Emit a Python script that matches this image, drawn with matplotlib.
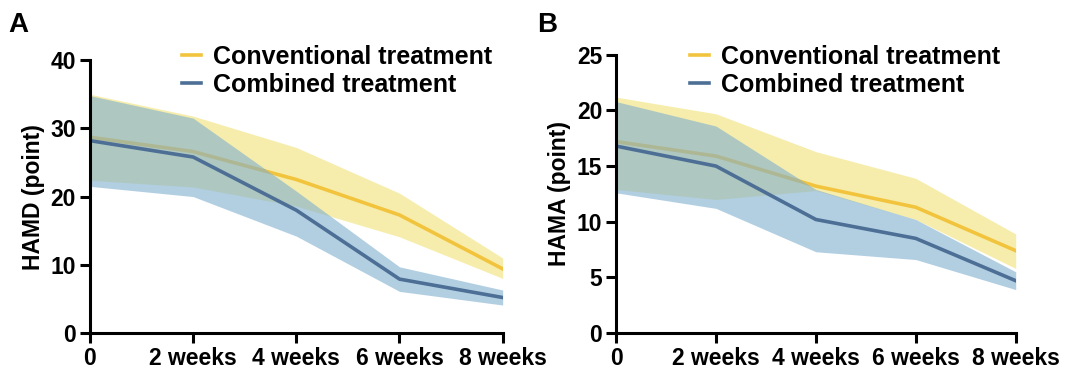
import matplotlib.pyplot as plt

# Datos
semanas = [0, 2, 4, 6, 8]
etiquetas = ['0', '2 weeks', '4 weeks', '6 weeks', '8 weeks']

# HAMD
hamd_conv = [28.7, 26.6, 22.5, 17.3, 9.4]
hamd_conv_sup = [35.0, 31.8, 27.2, 20.5, 11.0]
hamd_conv_inf = [22.4, 21.4, 18.6, 14.1, 8.0]
hamd_comb = [28.2, 25.8, 18.0, 7.9, 5.2]
hamd_comb_sup = [34.8, 31.5, 20.8, 9.7, 6.3]
hamd_comb_inf = [21.5, 20.0, 14.2, 6.1, 4.1]

# HAMA
hama_conv = [17.2, 15.9, 13.2, 11.3, 7.4]
hama_conv_sup = [21.2, 19.7, 16.3, 13.9, 8.9]
hama_conv_inf = [12.9, 12.0, 12.8, 10.2, 5.8]
hama_comb = [16.8, 15.0, 10.2, 8.5, 4.7]
hama_comb_sup = [20.8, 18.6, 12.9, 10.2, 5.5]
hama_comb_inf = [12.6, 11.2, 7.3, 6.6, 3.9]

amarillo = '#F2C43D'
azul = '#4D6F96'
banda_amarilla = '#EEDC5A'
banda_azul = '#7FAFCF'

plt.rcParams['font.family'] = ['Liberation Sans', 'DejaVu Sans']
plt.rcParams['font.weight'] = 'bold'

fig = plt.figure(figsize=(10.89, 3.8), dpi=100)
ax_a = fig.add_axes([0.0826, 0.1237, 0.379, 0.718])
ax_b = fig.add_axes([0.5657, 0.1237, 0.367, 0.732])


def dibujar_panel(ax, conv, conv_sup, conv_inf, comb, comb_sup, comb_inf,
                  ymax, paso, ylabel, pos_leyenda):
    # Orden: banda amarilla, linea amarilla, banda azul, linea azul
    ax.fill_between(semanas, conv_inf, conv_sup, color=banda_amarilla, alpha=0.5, lw=0, zorder=1)
    ax.plot(semanas, conv, color=amarillo, lw=2.6, label='Conventional treatment', zorder=2)
    ax.fill_between(semanas, comb_inf, comb_sup, color=banda_azul, alpha=0.6, lw=0, zorder=3)
    ax.plot(semanas, comb, color=azul, lw=2.6, label='Combined treatment', zorder=4)

    ax.set_xlim(0, 8)
    ax.set_ylim(0, ymax)
    ax.set_xticks(semanas)
    ax.set_xticklabels(etiquetas)
    ax.set_yticks(range(0, ymax + 1, paso))
    ax.set_ylabel(ylabel, fontsize=16.5, fontweight='bold', labelpad=4)
    for lado in ['top', 'right']:
        ax.spines[lado].set_visible(False)
    for lado in ['left', 'bottom']:
        ax.spines[lado].set_linewidth(2.2)
        ax.spines[lado].set_zorder(5)
    ax.tick_params(width=2.2, length=7, labelsize=16.5, pad=3)
    for t in ax.get_xticklabels() + ax.get_yticklabels():
        t.set_fontweight('bold')
    ax.legend(loc='upper left', bbox_to_anchor=pos_leyenda, frameon=False,
              borderpad=0, borderaxespad=0,
              handlelength=0.75, handletextpad=0.5, labelspacing=0.15,
              prop={'size': 18, 'weight': 'bold'})


dibujar_panel(ax_a, hamd_conv, hamd_conv_sup, hamd_conv_inf,
              hamd_comb, hamd_comb_sup, hamd_comb_inf, 40, 10, 'HAMD (point)',
              (0.223, 1.055))
dibujar_panel(ax_b, hama_conv, hama_conv_sup, hama_conv_inf,
              hama_comb, hama_comb_sup, hama_comb_inf, 25, 5, 'HAMA (point)',
              (0.185, 1.036))

fig.text(0.008, 0.915, 'A', fontsize=20, fontweight='bold')
fig.text(0.493, 0.915, 'B', fontsize=20, fontweight='bold')

fig.savefig('out.png', dpi=100)
